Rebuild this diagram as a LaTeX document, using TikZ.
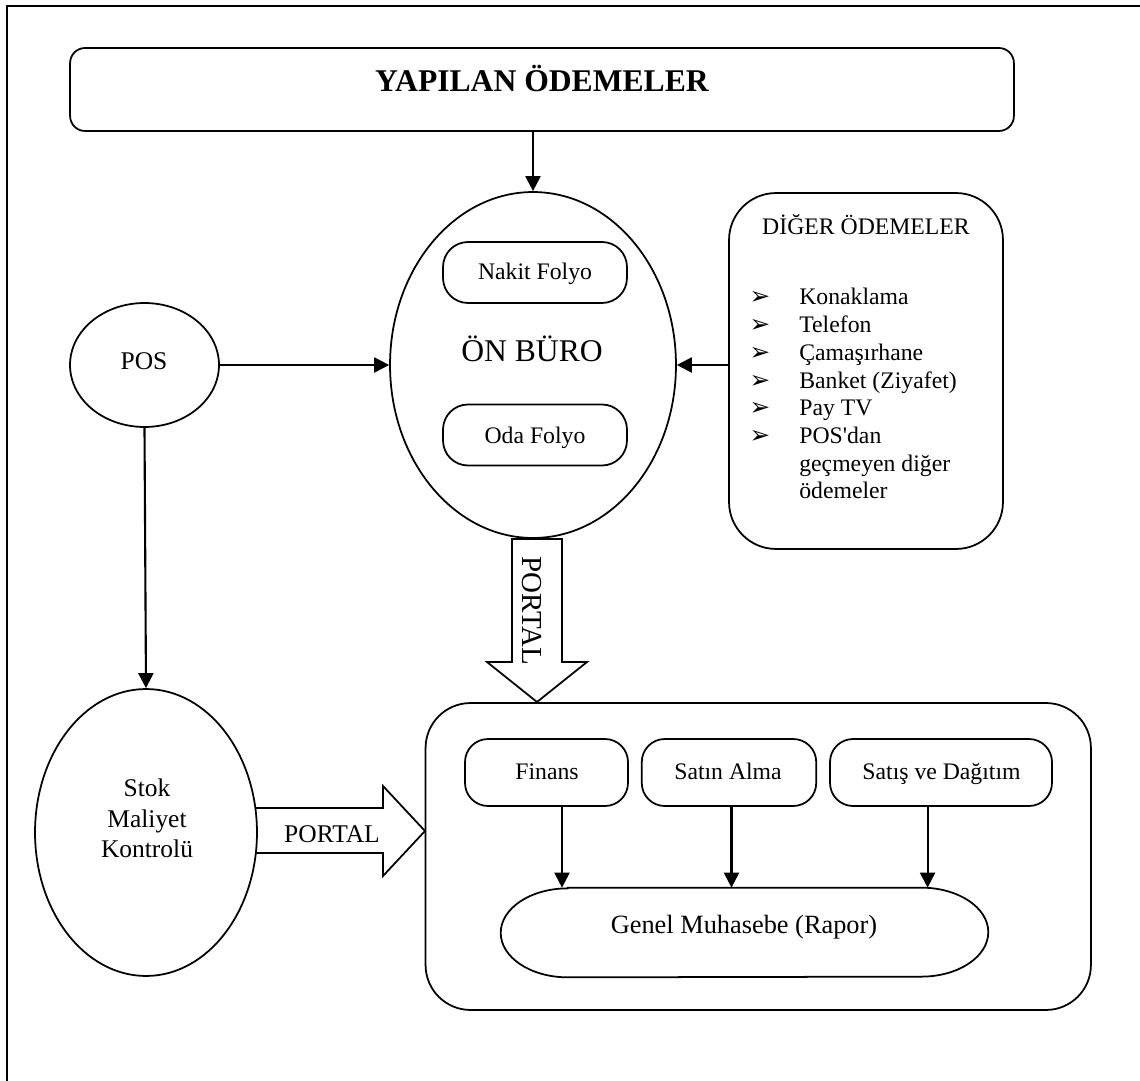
\documentclass[tikz,border=0pt]{standalone}
\usepackage{fontspec}
\setmainfont{Liberation Serif}[Ligatures=TeXOff]
\newfontfamily\dingfont{DejaVu Sans}
\usetikzlibrary{shapes.geometric, arrows.meta, calc}

\begin{document}
\begin{tikzpicture}[x=0.02cm, y=-0.02cm,
  shapeline/.style={draw, line width=1pt},
  roundbox/.style={shapeline, rectangle, inner sep=0pt},
  oval/.style={shapeline, ellipse, inner sep=0pt},
  txt/.style={anchor=base, inner sep=0pt, font=\fontsize{13.5}{15.7}\selectfont},
  bigtxt/.style={txt, font=\fontsize{14.5}{17}\selectfont},
  bullet/.style={anchor=base, inner sep=0pt, font=\dingfont\fontsize{14}{16}\selectfont},
  flow/.style={line width=1.2pt, -{Triangle[length=0.3cm, width=0.3cm]}},
  blockarrow/.style={draw, line width=1pt, fill=white, line join=miter},
]
\useasboundingbox (0,0) rectangle (1140,1081);

% page frame
\draw[line width=1.2pt] (7,1081) -- (7,6) -- (1140,6);

% title bar
\node[roundbox, rounded corners=0.3cm, minimum width=18.88cm, minimum height=1.66cm] (yap) at (542,89.5) {};
\node[txt, font=\bfseries\fontsize{18}{22}\selectfont] (t-yap) at (542,92) {YAPILAN ÖDEMELER};

% front office
\node[oval, minimum width=5.72cm, minimum height=6.92cm] (onburo) at (533,365) {};
\node[txt, font=\fontsize{18}{22}\selectfont] (t-onburo) at (532,361) {ÖN BÜRO};
\node[roundbox, rounded corners=0.5cm, minimum width=3.68cm, minimum height=1.22cm] (nakit) at (535,272.5) {};
\node[txt] (t-nakit) at (535,280) {Nakit Folyo};
\node[roundbox, rounded corners=0.5cm, minimum width=3.68cm, minimum height=1.22cm] (oda) at (535,435) {};
\node[txt] (t-oda) at (535,443) {Oda Folyo};

% POS
\node[oval, minimum width=2.98cm, minimum height=2.48cm] (pos) at (144.5,365) {};
\node[bigtxt] (t-pos) at (144,370) {POS};

% other payments
\node[roundbox, rounded corners=0.94cm, minimum width=5.48cm, minimum height=7.12cm] (diger) at (866,371) {};
\node[txt] (t-diger) at (866,235) {DİĞER ÖDEMELER};
\foreach \item [count=\i from 0] in {Konaklama, Telefon, Çamaşırhane, Banket (Ziyafet), Pay TV, POS'dan}{
  \node[bullet] (b\i) at (760,305+27.7*\i) {➢};
  \node[txt, anchor=base west] (l\i) at (799,305+27.7*\i) {\item};
}
\node[txt, anchor=base west] (l6) at (799,471.2) {geçmeyen diğer};
\node[txt, anchor=base west] (l7) at (799,498.9) {ödemeler};

% block arrow: front office to accounting
\draw[blockarrow] (512,539) -- (512,662) -- (487,662) -- (537,702) -- (587,662) -- (562,662) -- (562,539) -- cycle;
\node[inner sep=0pt, rotate=-90, font=\fontsize{16.5}{20}\selectfont] (t-portal1) at (532,611) {PORTAL};

% block arrow: stock control to accounting
\draw[blockarrow] (252,808) -- (383,808) -- (383,786) -- (425,831) -- (383,876) -- (383,853) -- (252,853) -- cycle;
\node[bigtxt] (t-portal2) at (332,842) {PORTAL};

% stock cost control
\node[oval, fill=white, minimum width=4.44cm, minimum height=5.74cm] (stok) at (146,832.5) {};
\node[bigtxt] (t-stok1) at (147,796) {Stok};
\node[bigtxt] (t-stok2) at (147,827) {Maliyet};
\node[bigtxt] (t-stok3) at (147,857) {Kontrolü};

% accounting panel
\node[roundbox, rounded corners=0.9cm, minimum width=13.31cm, minimum height=6.14cm] (panel) at (758.25,856.5) {};
\node[roundbox, rounded corners=0.46cm, minimum width=3.26cm, minimum height=1.34cm] (finans) at (546.5,772.5) {};
\node[txt] (t-finans) at (547,779) {Finans};
\node[roundbox, rounded corners=0.46cm, minimum width=3.49cm, minimum height=1.34cm] (satin) at (729,772.5) {};
\node[txt] (t-satin) at (728,779) {Satın Alma};
\node[roundbox, rounded corners=0.46cm, minimum width=4.44cm, minimum height=1.34cm] (satis) at (941,772.5) {};
\node[txt] (t-satis) at (941.5,779) {Satış ve Dağıtım};

% general ledger (stadium with elliptic ends)
\node[rectangle, inner sep=0pt, minimum width=9.74cm, minimum height=1.78cm] (genel) at (744.5,932.5) {};
\draw[line width=1pt] ($(genel.north west)+(67,0)$) -- ($(genel.north east)+(-67,0)$)
  arc[start angle=90, end angle=-90, x radius=1.34cm, y radius=0.89cm]
  -- ($(genel.south west)+(67,0)$)
  arc[start angle=270, end angle=90, x radius=1.34cm, y radius=0.89cm] -- cycle;
\node[txt, font=\fontsize{15}{18}\selectfont] (t-genel) at (744,933) {Genel Muhasebe (Rapor)};

% connectors
\draw[flow] (onburo.north |- yap.south) -- (onburo.north);
\draw[flow] (pos.east) -- (onburo.west);
\draw[flow] (diger.west |- onburo.east) -- (onburo.east);
\draw[flow] (pos.south) -- (stok.north);
\draw[flow] ($(finans.south)+(15.5,0)$) coordinate (f1) -- (f1 |- genel.north);
\draw[flow] ($(satin.south)+(2.5,0)$) coordinate (f2) -- (f2 |- genel.north);
\draw[flow] ($(satis.south)+(-13.4,0)$) coordinate (f3) -- (f3 |- genel.north);
\end{tikzpicture}
\end{document}
